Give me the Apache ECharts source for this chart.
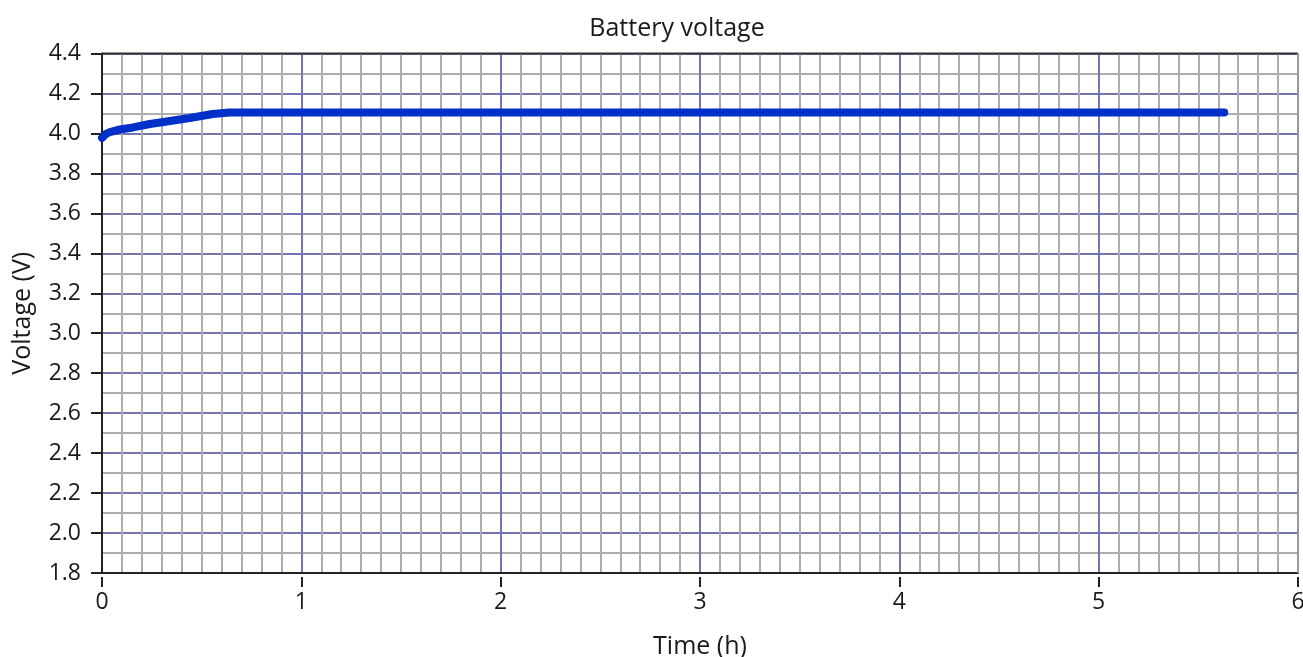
<!DOCTYPE html>
<html><head><meta charset="utf-8">
<script src="https://cdn.jsdelivr.net/npm/echarts@6/dist/echarts.min.js"></script>
<style>html,body{margin:0;padding:0;background:#fff}#c{width:1303px;height:657px}</style>
</head><body><div id="c"></div>
<script>
const timeH = [0, 0.02, 0.04, 0.09, 0.155, 0.24, 0.325, 0.44, 0.555, 0.64, 1, 2, 3, 4, 5, 5.63];
const voltV = [3.978, 3.998, 4.007, 4.02, 4.03, 4.047, 4.06, 4.077, 4.097, 4.105, 4.105, 4.105, 4.105, 4.105, 4.105, 4.105];
const titleText = 'Battery voltage';
const xName = 'Time (h)';
const yName = 'Voltage (V)';

const FONT = 'Open Sans';
const TXT = '#1a1a1a';
const chart = echarts.init(document.getElementById('c'), null, {renderer: 'canvas'});
const grid = {left: 102, right: 5, top: 53.5, bottom: 84, containLabel: false, outerBoundsMode: 'none'};
chart.setOption({
  animation: false,
  title: {text: titleText, left: 672, textAlign: 'center', top: 11,
    textStyle: {fontFamily: FONT, fontSize: 25, fontWeight: 'normal', color: TXT}},
  grid: grid,
  xAxis: [
    {type: 'value', min: 0, max: 6, interval: 1,
     axisLine: {show: true, onZero: false, lineStyle: {color: '#222', width: 2}},
     axisTick: {show: false}, axisLabel: {show: false},
     splitLine: {show: true, lineStyle: {color: '#7474b0', width: 2}},
     minorTick: {show: false, splitNumber: 10},
     minorSplitLine: {show: true, lineStyle: {color: '#adadad', width: 2}}},
    {type: 'value', min: 0, max: 6, interval: 1, position: 'bottom', offset: 4,
     axisLine: {show: false}, splitLine: {show: false},
     axisTick: {show: true, length: 10, lineStyle: {color: '#222', width: 2}},
     axisLabel: {margin: 14, fontFamily: FONT, fontSize: 23, color: TXT},
     name: xName, nameLocation: 'middle', nameGap: 57,
     nameTextStyle: {fontFamily: FONT, fontSize: 25, color: TXT}}
  ],
  yAxis: [
    {type: 'value', min: 1.8, max: 4.4, interval: 0.2,
     axisLine: {show: true, onZero: false, lineStyle: {color: '#222', width: 2}},
     axisTick: {show: false}, axisLabel: {show: false},
     splitLine: {show: true, lineStyle: {color: '#7474b0', width: 2}},
     minorTick: {show: false, splitNumber: 2},
     minorSplitLine: {show: true, lineStyle: {color: '#adadad', width: 2}}},
    {type: 'value', min: 1.8, max: 4.4, interval: 0.2, position: 'left', offset: 4,
     axisLine: {show: false}, splitLine: {show: false},
     axisTick: {show: true, length: 11, lineStyle: {color: '#222', width: 2}},
     axisLabel: {margin: 17, fontFamily: FONT, fontSize: 23, color: TXT,
       formatter: v => v.toFixed(1)},
     name: yName, nameLocation: 'middle', nameGap: 63, nameRotate: 90,
     nameTextStyle: {fontFamily: FONT, fontSize: 25, color: TXT}}
  ],
  graphic: [
    {type: 'line', shape: {x1: 102, y1: 53.5, x2: 1298, y2: 53.5}, style: {stroke: '#333', lineWidth: 2}, z: 100},
    {type: 'line', shape: {x1: 1298, y1: 53.5, x2: 1298, y2: 573}, style: {stroke: '#999', lineWidth: 2}, z: 100}
  ],
  series: [{
    type: 'line', xAxisIndex: 0, yAxisIndex: 0,
    data: timeH.map((t, i) => [t, voltV[i]]),
    showSymbol: false, symbol: 'none',
    lineStyle: {color: '#0030c8', width: 8, cap: 'round', join: 'round'},
    z: 10
  }]
});
</script></body></html>
